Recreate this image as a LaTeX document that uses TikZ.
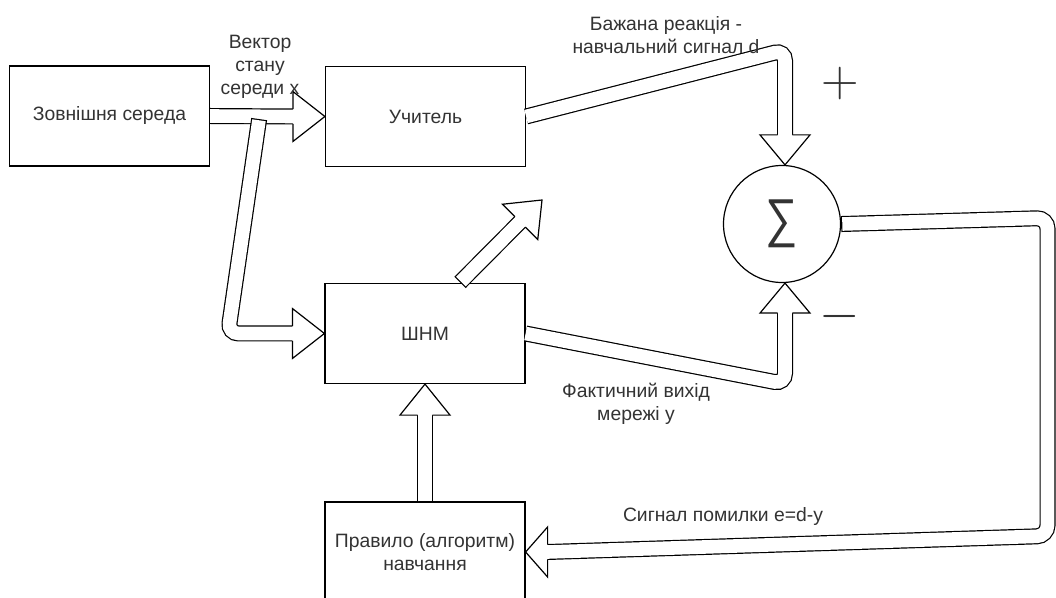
\RequirePackage{fix-cm}
\documentclass[tikz,border=0pt]{standalone}
\usepackage{graphicx}
\usepackage[no-math]{fontspec}
\setmainfont{Liberation Sans}
\usetikzlibrary{calc}

\tikzset{
  pics/bhead/.style={code={
    \fill[white] (0,0) -- (-#1,25) -- (-#1,-25) -- cycle;
    \draw[line join=miter] (-#1,7.4) -- (-#1,25) -- (0,0) -- (-#1,-25) -- (-#1,-7.4);
  }}
}

\begin{document}
\begin{tikzpicture}[x=0.75pt, y=-0.75pt, line width=0.9pt,
  every node/.style={font=\fontsize{14.5}{17.5}\selectfont, text=black!80},
  blk/.style={draw, fill=white, minimum width=150pt, minimum height=75pt, inner sep=0pt, align=center},
  lbl/.style={align=center, inner sep=1pt},
  shaft/.style={double=white, double distance=10.2pt},
  tail/.style={shaft, line cap=rect}]
\useasboundingbox[fill=white] (0,0) rectangle (1056,598);

\node[blk] (env) at (109.5,116) {Зовнішня середа};
\node[blk] (teacher) at (425.5,116.5) {Учитель};
\node[blk] (nn) at (425,333.5) {ШНМ};
\node[blk] (rule) at (425,552) {Правило (алгоритм)\\навчання};
\node[draw, circle, fill=white, minimum size=87.75pt, inner sep=0pt] (sum) at (782,224) {\fontsize{40}{40}\selectfont\scalebox{0.85}[1]{∑}};

% x -> teacher, x -> network
\draw[shaft] (env.east) -- ($(teacher.west)+(-32,0)$);
\pic at (teacher.west) {bhead=32};
\coordinate (split) at (258,127);
\draw[tail, rounded corners=8pt] (split) -- (228,333.5) -- ($(nn.west)+(-32,0)$);
\pic at (nn.west) {bhead=32};

% network output upwards
\coordinate (up) at (542,200);
\draw[tail] ($(nn.north)+(40.7,-6.2)$) -- ($(up)+(-21.9,21.9)$);
\pic[rotate=45] at (up) {bhead=31};

% d and y into the sum
\coordinate (din) at ($(sum.north)+(3,0)$);
\coordinate (yin) at ($(sum.south)+(3,0)$);
\draw[shaft, rounded corners=8pt] (teacher.east) -- (din |- 0,50) -- ($(din)+(0,-30)$);
\pic[rotate=-90] at (din) {bhead=30};
\draw[shaft, rounded corners=8pt] (nn.east) -- (yin |- 0,384) -- ($(yin)+(0,30)$);
\pic[rotate=90] at (yin) {bhead=30};

% error back to the rule, rule -> network
\draw[tail, rounded corners=8pt] ($(sum.east)+(8,-0.2)$) -- (1047.5,218) -- (1047.5,536) -- ($(rule.east)+(22,0)$);
\pic[rotate=180] at (rule.east) {bhead=22};
\draw[shaft] (rule.north) -- ($(nn.south)+(0,31)$);
\pic[rotate=90] at (nn.south) {bhead=31};

\node[lbl] (xlbl) at (260,67) {Вектор\\стану\\середи x};
\node[lbl] (dlbl) at (666,35) {Бажана реакція -\\навчальний сигнал d};
\node[lbl] (ylbl) at (636,404) {Фактичний вихід\\мережі y};
\node[lbl] (elbl) at (723,516) {Сигнал помилки e=d-y};
\node (plus) at (840,84) {\fontsize{39}{39}\selectfont$+$};
\node (minus) at (840,317) {\fontsize{39}{39}\selectfont$-$};
\end{tikzpicture}
\end{document}
